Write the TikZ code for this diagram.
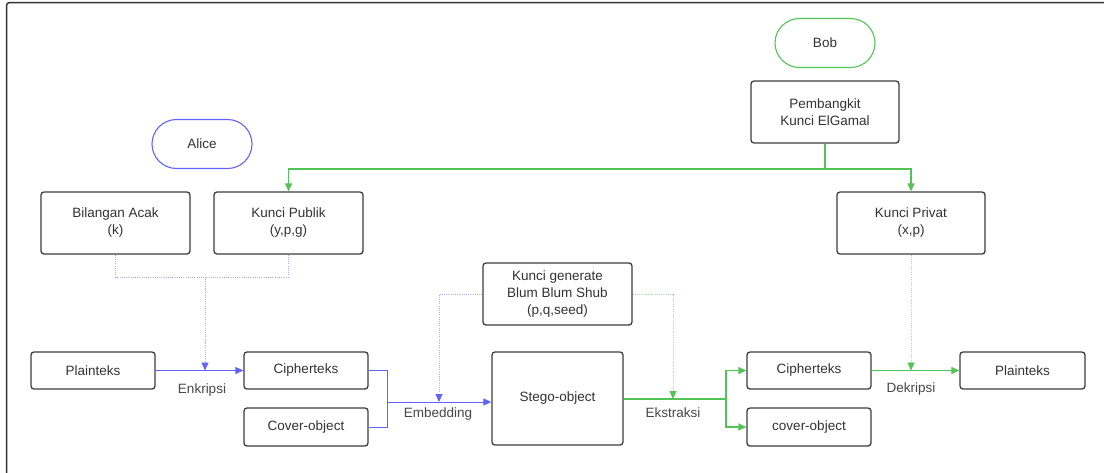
\documentclass[tikz,border=0pt]{standalone}
\usepackage{fontspec}
\setmainfont{Liberation Sans}
\usetikzlibrary{arrows.meta}
\definecolor{tx}{HTML}{333333}
\definecolor{bl}{HTML}{6262FF}
\definecolor{gr}{HTML}{52C457}
\definecolor{bld}{HTML}{A8A8FF}
\definecolor{grd}{HTML}{9FDFA2}
\tikzset{
  box/.style={draw=tx!95, line width=1.3pt, rounded corners=3pt, inner sep=0pt,
    align=center, text=tx, font=\fontsize{13.5}{17}\selectfont},
  pill/.style={draw=#1, line width=1.1pt, rounded corners=24.5pt, inner sep=0pt,
    minimum width=100pt, minimum height=49pt, text=tx, font=\fontsize{13.5}{17}\selectfont},
  lbl/.style={text=tx!90, font=\fontsize{13.5}{17}\selectfont, inner sep=0pt},
  tip/.style={-{Triangle[length=8pt,width=7pt]}},
  btip/.style={-{Triangle[length=8pt,width=7pt,color=bl]}},
  gtip/.style={-{Triangle[length=8pt,width=7pt,color=gr]}},
  bline/.style={draw=bl, line width=1pt},
  gline/.style={draw=gr, line width=1.2pt},
  bdot/.style={draw=bld, line width=0.8pt, dash pattern=on 1pt off 1.2pt},
  gdot/.style={draw=grd, line width=0.8pt, dash pattern=on 1pt off 1.2pt},
}
\begin{document}
\begin{tikzpicture}[x=1pt,y=-1pt]
\useasboundingbox (0,0) rectangle (1104,472);
\clip (0,0) rectangle (1104,472);
\fill[white] (0,0) rectangle (1104,472);
\draw[draw=tx, line width=1.5pt, rounded corners=3pt] (6.5,2.5) rectangle (1130,500);

% nodes
\node[pill=bl] (alice) at (202,144) {Alice};
\node[pill=gr] (bob) at (825,43) {Bob};
\node[box, minimum width=148pt, minimum height=62pt] (gen) at (825,112) {Pembangkit\\Kunci ElGamal};
\node[box, minimum width=149pt, minimum height=62pt] (bil) at (115.5,223) {Bilangan Acak\\(k)};
\node[box, minimum width=149pt, minimum height=62pt] (pub) at (288.5,223) {Kunci Publik\\(y,p,g)};
\node[box, minimum width=148pt, minimum height=62pt] (priv) at (911,223) {Kunci Privat\\(x,p)};
\node[box, minimum width=149pt, minimum height=62pt] (bbs) at (557.5,294) {Kunci generate\\Blum Blum Shub\\(p,q,seed)};
\node[box, minimum width=124pt, minimum height=37pt] (plain1) at (93,370.5) {Plainteks};
\node[box, minimum width=124pt, minimum height=37pt] (ciph1) at (306,370.5) {Cipherteks};
\node[box, minimum width=124pt, minimum height=38pt] (cover1) at (306,427) {Cover-object};
\node[box, minimum width=131pt, minimum height=93pt] (stego) at (557.5,398.5) {Stego-object};
\node[box, minimum width=124pt, minimum height=37pt] (ciph2) at (809,370.5) {Cipherteks};
\node[box, minimum width=124pt, minimum height=38pt] (cover2) at (809,427) {cover-object};
\node[box, minimum width=125pt, minimum height=37pt] (plain2) at (1022.5,370.5) {Plainteks};

% junction coordinates
\coordinate (gj) at (825,169);
\coordinate (dj) at (205,277);
\coordinate (enk) at (205,370.5);
\coordinate (emb) at (387,402);
\coordinate (embm) at (439,402);
\coordinate (ext) at (726,399);
\coordinate (extm) at (673,399);

% green key tree
\draw[gline] (gen.south) -- (gj);
\draw[gline, tip] (gj) -| (pub.north);
\draw[gline, tip] (gj) -| (priv.north);

% Alice side dotted
\draw[bdot] (bil.south) |- (dj);
\draw[bdot] (pub.south) |- (dj);
\draw[bdot, btip] (dj) -- (enk);

% Enkripsi
\draw[bline, tip] (plain1.east) -- (ciph1.west);
\node[lbl] (lenk) at (202,390) {Enkripsi};

% Embedding
\draw[bline] (ciph1.east) -| (emb |- cover1.east) -- (cover1.east);
\draw[bline, tip] (emb) -- (stego.west |- emb);
\node[lbl] (lemb) at (438,414) {Embedding};
\draw[bdot, btip] (bbs.west) -| (embm);

% Ekstraksi
\draw[gline] (stego.east |- ext) -- (ext);
\draw[gline, tip] (ext) |- (ciph2.west);
\draw[gline, tip] (ext) |- (cover2.west);
\node[lbl] (lext) at (673,413) {Ekstraksi};
\draw[gdot, gtip] (bbs.east) -| (extm);

% Dekripsi
\draw[gline, tip] (ciph2.east) -- (plain2.west);
\node[lbl] (ldek) at (911,389) {Dekripsi};
\draw[gdot, gtip] (priv.south) -- (priv.south |- ciph2.east);
\end{tikzpicture}
\end{document}
